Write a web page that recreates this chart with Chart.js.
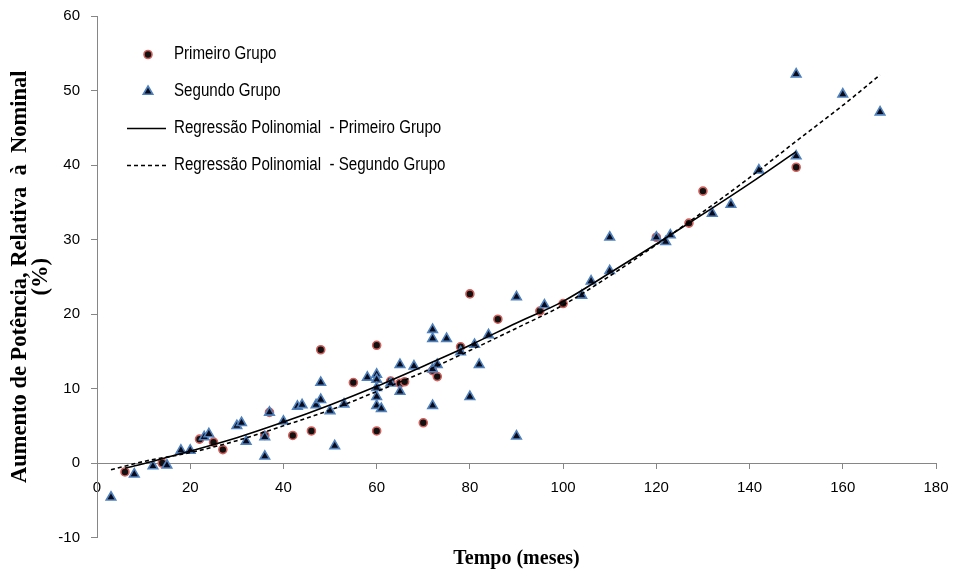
<!DOCTYPE html>
<html>
<head>
<meta charset="utf-8">
<script src="https://cdn.jsdelivr.net/npm/chart.js@4.4.0/dist/chart.umd.min.js"></script>
<style>
  html, body { margin: 0; padding: 0; background: #fff; }
  #wrap { width: 954px; height: 577px; }
</style>
</head>
<body>
<div id="wrap"><canvas id="c" width="954" height="577"></canvas></div>
<script>
// ---- Data ----
const seriesLabels = [
  'Primeiro Grupo',
  'Segundo Grupo',
  'Regressão Polinomial  - Primeiro Grupo',
  'Regressão Polinomial  - Segundo Grupo'
];

const grupo1X = [6, 14, 22, 25, 27, 36, 37, 42, 46, 48, 55, 60, 60, 63, 65, 66, 70, 72, 73, 78, 80, 86, 95, 100, 120, 127, 130, 150];
const grupo1Y = [-1.2, 0, 3.2, 2.8, 1.8, 3.7, 6.8, 3.7, 4.3, 15.2, 10.8, 15.8, 4.3, 11.0, 10.7, 10.9, 5.4, 12.4, 11.6, 15.6, 22.7, 19.3, 20.4, 21.4, 30.3, 32.2, 36.5, 39.7];

const grupo2X = [3, 8, 12, 15, 18, 20, 23, 24, 30, 31, 32, 36, 36, 37, 40, 43, 44, 47, 48, 48, 50, 51, 53, 58, 60, 60, 60, 60, 60, 61, 63, 65, 65, 68, 72, 72, 72, 72, 73, 75, 78, 80, 81, 82, 84, 90, 90, 96, 104, 106, 110, 110, 120, 122, 123, 132, 136, 142, 150, 150, 160, 168];
const grupo2Y = [-4.6, -1.5, -0.4, -0.3, 1.7, 1.7, 3.5, 3.9, 5.0, 5.4, 2.9, 3.5, 0.9, 6.8, 5.6, 7.6, 7.8, 7.8, 8.5, 10.8, 7.0, 2.3, 7.9, 11.5, 11.9, 11.2, 10.1, 8.9, 7.7, 7.3, 10.7, 13.2, 9.6, 13.0, 17.9, 16.7, 12.6, 7.7, 13.2, 16.7, 14.9, 8.9, 15.9, 13.2, 17.2, 22.3, 3.6, 21.2, 22.5, 24.4, 30.3, 25.8, 30.3, 29.7, 30.6, 33.5, 34.7, 39.3, 41.2, 52.2, 49.5, 47.1];

// regression curves
const reg1X = [6, 10, 20, 30, 40, 50, 60, 70, 80, 90, 100, 110, 120, 130, 140, 150];
const reg1Y = [-0.7, -0.1, 1.6, 3.4, 5.5, 7.8, 10.3, 13.0, 15.8, 18.8, 21.7, 25.5, 29.4, 33.4, 37.5, 41.8];
const reg2X = [3, 10, 20, 30, 40, 50, 60, 70, 80, 90, 100, 110, 120, 130, 140, 150, 160, 168];
const reg2Y = [-0.9, 0.2, 1.4, 3.0, 5.0, 7.1, 9.6, 12.2, 15.1, 18.1, 21.2, 25.1, 29.3, 33.7, 38.3, 43.2, 48.0, 52.1];

const xTickValues = [0, 20, 40, 60, 80, 100, 120, 140, 160, 180];
const yTickValues = [-10, 0, 10, 20, 30, 40, 50, 60];

const xTitle = 'Tempo (meses)';
const yTitle = ['Aumento de Potência, Relativa  à  Nominal', '(%)'];

// ---- Build ----
const toPts = (xs, ys) => xs.map((x, i) => ({ x: x, y: ys[i] }));
const axisGray = '#868686';
const tickFont = { family: "'Liberation Sans', Arial, sans-serif", size: 15 };
const legendFont = "18px 'Liberation Sans', Arial, sans-serif";

const insideLegend = {
  id: 'insideLegend',
  afterDraw(chart) {
    const ctx = chart.ctx;
    const a = chart.chartArea;
    const x0 = a.left + 30, x1 = a.left + 69, xm = a.left + 51, xt = a.left + 77;
    const y0 = a.top + 38.5, dy = 37;
    chart.data.datasets.forEach((ds, i) => {
      const y = y0 + i * dy;
      ctx.save();
      if (ds.showLine) {
        ctx.strokeStyle = ds.borderColor;
        ctx.lineWidth = ds.borderWidth;
        ctx.setLineDash(ds.borderDash || []);
        ctx.beginPath();
        ctx.moveTo(x0, y);
        ctx.lineTo(x1, y);
        ctx.stroke();
      } else {
        ctx.fillStyle = ds.pointBackgroundColor;
        ctx.strokeStyle = ds.pointBorderColor;
        ctx.lineWidth = ds.pointBorderWidth;
        Chart.helpers.drawPoint(ctx, { pointStyle: ds.pointStyle, radius: ds.pointRadius, borderWidth: ds.pointBorderWidth, rotation: 0 }, xm, y);
      }
      ctx.setLineDash([]);
      ctx.fillStyle = '#000';
      ctx.font = legendFont;
      ctx.textBaseline = 'middle';
      ctx.textAlign = 'left';
      ctx.translate(xt, y);
      ctx.scale(0.84, 1);
      ctx.fillText(ds.label, 0, 0);
      ctx.restore();
    });
  }
};

new Chart(document.getElementById('c'), {
  type: 'scatter',
  data: {
    datasets: [
      {
        label: seriesLabels[0],
        data: toPts(grupo1X, grupo1Y),
        pointStyle: 'circle',
        pointRadius: 4,
        pointBorderWidth: 1.6,
        pointBackgroundColor: '#111111',
        pointBorderColor: '#d0605c',
        backgroundColor: '#111111',
        borderColor: '#d0605c',
        order: 3
      },
      {
        label: seriesLabels[1],
        data: toPts(grupo2X, grupo2Y),
        pointStyle: 'triangle',
        pointRadius: 5.5,
        pointBorderWidth: 1.6,
        pointBackgroundColor: '#0a0a1a',
        pointBorderColor: '#4f81bd',
        backgroundColor: '#0a0a1a',
        borderColor: '#4f81bd',
        order: 2
      },
      {
        label: seriesLabels[2],
        data: toPts(reg1X, reg1Y),
        showLine: true,
        borderColor: '#000000',
        borderWidth: 1.6,
        pointRadius: 0,
        cubicInterpolationMode: 'monotone',
        order: 1
      },
      {
        label: seriesLabels[3],
        data: toPts(reg2X, reg2Y),
        showLine: true,
        borderColor: '#000000',
        borderWidth: 1.6,
        borderDash: [4, 3],
        pointRadius: 0,
        cubicInterpolationMode: 'monotone',
        order: 0
      }
    ]
  },
  options: {
    responsive: false,
    animation: false,
    devicePixelRatio: 1,
    layout: { padding: { left: 0, top: 16, right: 18, bottom: 0 } },
    plugins: {
      legend: { display: false },
      tooltip: { enabled: false },
      title: {
        display: true,
        text: xTitle,
        position: 'bottom',
        fullSize: false,
        color: '#000',
        font: { family: "'Liberation Serif', 'Times New Roman', serif", size: 20, weight: 'bold', lineHeight: 1.2 },
        padding: { top: 9.5, bottom: 6 }
      }
    },
    scales: {
      x: {
        type: 'linear',
        position: { y: 0 },
        min: 0,
        max: 180,
        afterBuildTicks: (s) => { s.ticks = xTickValues.map(v => ({ value: v })); },
        afterFit: (s) => { s.paddingLeft = 0; s.paddingRight = 0; },
        ticks: { color: '#000', font: tickFont, padding: 11, maxRotation: 0 },
        grid: { display: true, drawOnChartArea: false, drawTicks: true, tickLength: 5, color: axisGray },
        border: { display: true, color: axisGray, width: 1 }
      },
      y: {
        type: 'linear',
        position: 'left',
        min: -10,
        max: 60,
        afterBuildTicks: (s) => { s.ticks = yTickValues.map(v => ({ value: v })); },
        afterFit: (s) => { s.width = 97; s.paddingTop = 0; s.paddingBottom = 0; },
        ticks: { color: '#000', font: tickFont, padding: 11 },
        grid: { display: true, drawOnChartArea: false, drawTicks: true, tickLength: 6, color: axisGray },
        border: { display: true, color: axisGray, width: 1 },
        title: {
          display: true,
          text: yTitle,
          color: '#000',
          font: { family: "'Liberation Serif', 'Times New Roman', serif", size: 22.5, weight: 'bold', lineHeight: 0.95 },
          padding: { top: 9, bottom: 0 }
        }
      }
    }
  },
  plugins: [insideLegend]
});
</script>
</body>
</html>
